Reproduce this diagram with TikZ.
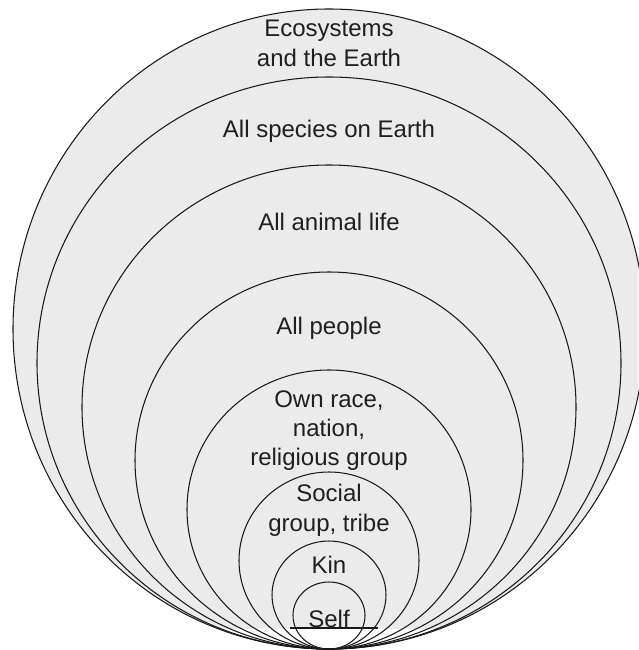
\documentclass[tikz,border=0pt]{standalone}
\usepackage{fontspec}
\setmainfont{Liberation Sans}
\begin{document}
\begin{tikzpicture}[x=1pt,y=-1pt,
  ring/.style={draw=black!90, line width=1.05pt},
  lbl/.style={anchor=base, font=\fontsize{24}{29}\selectfont, inner sep=0pt, text=black!88}]
\useasboundingbox (0,0) rectangle (638,650);
% light grey fill of the outer ring, stopping at the line under "Self"
\begin{scope}
  \clip (0,0) rectangle (638,628);
  \fill[black!8] (329,329) ellipse [x radius=316, y radius=320];
\end{scope}
% nested rings, all meeting at the bottom point
\draw[ring] (329,329)   ellipse [x radius=316, y radius=320];
\draw[ring] (329,363)   ellipse [x radius=292, y radius=286];
\draw[ring] (329,407)   ellipse [x radius=247, y radius=242];
\draw[ring] (329,460.5) ellipse [x radius=194, y radius=188.5];
\draw[ring] (329,509.5) ellipse [x radius=142, y radius=139.5];
\draw[ring] (329,560.5) ellipse [x radius=90,  y radius=88.5];
\draw[ring] (329,595)   ellipse [x radius=57,  y radius=54];
\draw[ring] (329,615.5) ellipse [x radius=36,  y radius=33.5];
% line under "Self"
\coordinate (sl) at (290,628);
\coordinate (sr) at (378,628);
\draw[ring] (sl) -- (sr);
% labels
\node[lbl] (eco1) at (329,37) {Ecosystems};
\node[lbl] (eco2) at (329,67) {and the Earth};
\node[lbl] (species) at (329,137) {All species on Earth};
\node[lbl] (animal) at (329,230) {All animal life};
\node[lbl] (people) at (329,334) {All people};
\node[lbl] (race1) at (329,407) {Own race,};
\node[lbl] (race2) at (329,436) {nation,};
\node[lbl] (race3) at (329,465) {religious group};
\node[lbl] (soc1) at (329,501) {Social};
\node[lbl] (soc2) at (329,531) {group, tribe};
\node[lbl] (kin) at (329,573) {Kin};
\node[lbl] (self) at (329,627) {Self};
\end{tikzpicture}
\end{document}
